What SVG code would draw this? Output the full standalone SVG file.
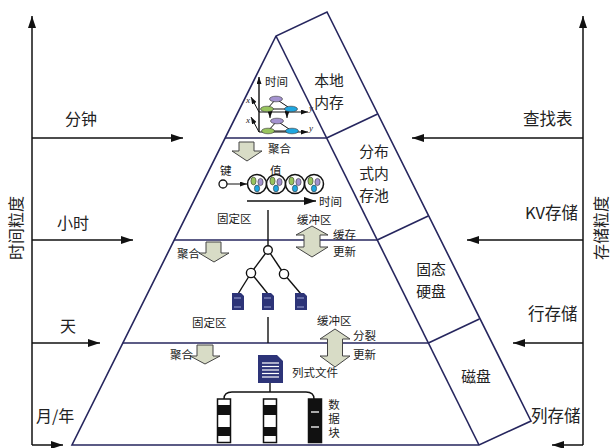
<svg xmlns="http://www.w3.org/2000/svg" width="611" height="448" viewBox="0 0 611 448">
<style>
  .ax{stroke:#111;stroke-width:1.5;fill:none}
  .pv{stroke:#26265e;stroke-width:1.6;fill:none}
  .tl{stroke:#111;stroke-width:1.4;fill:none}
  .thin{stroke:#111;stroke-width:1;fill:none}
  text{font-family:"Noto Sans CJK SC","Noto Sans",sans-serif;fill:#222;dominant-baseline:central}
  .big{font-size:16px}
  .tier{font-size:14.8px}
  .rt{font-size:16.5px}
  .sm{font-size:11.5px}
  .vert{writing-mode:vertical-rl;letter-spacing:2.5px}
  .it{font-family:"Liberation Serif",serif;font-style:italic;font-size:9px}
  .blk{fill:#d8dcc6;stroke:#444;stroke-width:1}
  .pu{fill:#a493d0;stroke:#333;stroke-width:0.6}
  .gr{fill:#98c45e;stroke:#333;stroke-width:0.6}
  .bl{fill:#1fa6e0;stroke:#333;stroke-width:0.6}
  .file{fill:#2d3478}
</style>
<defs>
  <marker id="ah" viewBox="0 0 12 8" refX="12" refY="4" markerWidth="12" markerHeight="8" markerUnits="userSpaceOnUse" orient="auto">
    <path d="M0,0 L12,4 L0,8 Z" fill="#111"/>
  </marker>
  <marker id="ahs" viewBox="0 0 7 5" refX="7" refY="2.5" markerWidth="7" markerHeight="5" markerUnits="userSpaceOnUse" orient="auto">
    <path d="M0,0 L7,2.5 L0,5 Z" fill="#111"/>
  </marker>
</defs>

<!-- granularity axes -->
<g id="axes">
  <line class="ax" x1="32" y1="445" x2="32" y2="16" marker-end="url(#ah)"/>
  <line class="ax" x1="583" y1="445" x2="583" y2="16" marker-end="url(#ah)"/>
  <text class="big" transform="translate(15,228) rotate(-90)" text-anchor="middle">时间粒度</text>
  <text class="big" transform="translate(600,228) rotate(-90)" text-anchor="middle">存储粒度</text>
</g>

<!-- scale arrows pointing at the pyramid -->
<g id="connectors">
  <line class="ax" x1="32" y1="138" x2="183" y2="138" marker-end="url(#ah)"/>
  <line class="ax" x1="32" y1="240" x2="133" y2="240" marker-end="url(#ah)"/>
  <line class="ax" x1="32" y1="343" x2="100" y2="343" marker-end="url(#ah)"/>
  <line class="ax" x1="32" y1="445" x2="63" y2="445" marker-end="url(#ah)"/>
  <line class="ax" x1="583" y1="138" x2="412" y2="138" marker-end="url(#ah)"/>
  <line class="ax" x1="583" y1="240" x2="467" y2="240" marker-end="url(#ah)"/>
  <line class="ax" x1="583" y1="343" x2="513" y2="343" marker-end="url(#ah)"/>
  <line class="ax" x1="583" y1="445" x2="552" y2="445" marker-end="url(#ah)"/>
</g>

<g id="time-labels">
  <text class="big" x="65" y="118">分钟</text>
  <text class="big" x="57" y="222">小时</text>
  <text class="big" x="60" y="325">天</text>
  <text class="big" x="36" y="415">月/年</text>
</g>
<g id="storage-labels">
  <text class="rt" x="523" y="118">查找表</text>
  <text class="rt" x="525" y="212">KV存储</text>
  <text class="rt" x="528" y="313">行存储</text>
  <text class="rt" x="531" y="415">列存储</text>
</g>

<!-- pyramid outline with its slanted side face -->
<g id="pyramid">
  <path class="pv" d="M276,36 L72,445 L479,445 L531,421 L327,12 Z"/>
  <line class="pv" x1="276" y1="36" x2="479" y2="445"/>
  <line class="pv" x1="225" y1="138" x2="326.6" y2="138"/>
  <line class="pv" x1="174" y1="240" x2="377.2" y2="240"/>
  <line class="pv" x1="122.8" y1="343" x2="428.4" y2="343"/>
  <line class="pv" x1="326.6" y1="138" x2="377.6" y2="114"/>
  <line class="pv" x1="377.2" y1="240" x2="428.2" y2="216"/>
  <line class="pv" x1="428.4" y1="343" x2="479.4" y2="319"/>
</g>

<g id="tier-local-memory">
  <text class="tier" x="329" y="79" text-anchor="middle">本地</text>
  <text class="tier" x="329" y="101" text-anchor="middle">内存</text>
</g>
<g id="tier-distributed-memory">
  <text class="tier" x="374" y="150" text-anchor="middle">分布</text>
  <text class="tier" x="374" y="172" text-anchor="middle">式内</text>
  <text class="tier" x="374" y="194" text-anchor="middle">存池</text>
</g>
<g id="tier-ssd">
  <text class="tier" x="431" y="268" text-anchor="middle">固态</text>
  <text class="tier" x="431" y="290" text-anchor="middle">硬盘</text>
</g>
<g id="tier-disk">
  <text class="tier" x="476" y="375" text-anchor="middle">磁盘</text>
</g>

<!-- time-layered graph in local memory -->
<g id="graph-layers">
  <line class="tl" x1="259" y1="132" x2="259" y2="77" marker-end="url(#ahs)"/>
  <text class="sm" x="265" y="81">时间</text>
  <line class="thin" x1="259" y1="112" x2="308" y2="112" marker-end="url(#ahs)"/>
  <line class="thin" x1="259" y1="112" x2="251" y2="97" marker-end="url(#ahs)"/>
  <line class="thin" x1="259" y1="132" x2="308" y2="132" marker-end="url(#ahs)"/>
  <line class="thin" x1="259" y1="132" x2="251" y2="117" marker-end="url(#ahs)"/>
  <text class="it" x="309" y="108">y</text>
  <text class="it" x="309" y="128">y</text>
  <text class="it" x="250" y="100" text-anchor="end">x</text>
  <text class="it" x="250" y="120" text-anchor="end">x</text>
  <path class="thin" d="M276,99 L267,109 L291,109 Z"/>
  <path class="thin" d="M277,121 L268,131 L292,131 Z"/>
  <line class="thin" x1="270" y1="110" x2="270" y2="118" marker-end="url(#ahs)"/>
  <line class="thin" x1="287" y1="110" x2="287" y2="118" marker-end="url(#ahs)"/>
  <ellipse class="pu" cx="276" cy="99" rx="6.5" ry="2.8"/>
  <ellipse class="gr" cx="267" cy="109" rx="6.5" ry="2.8"/>
  <ellipse class="bl" cx="291" cy="109" rx="6.5" ry="2.8"/>
  <ellipse class="pu" cx="277" cy="121" rx="6.5" ry="2.8"/>
  <ellipse class="gr" cx="268" cy="131" rx="6.5" ry="2.8"/>
  <ellipse class="bl" cx="292" cy="131" rx="6.5" ry="2.8"/>
</g>

<g id="aggregate-1">
  <path class="blk" d="M239,142 H254 V151 H262 L247,161 L232,151 H239 Z"/>
  <text class="sm" x="268" y="148">聚合</text>
</g>

<!-- key/value chain in the distributed memory pool -->
<g id="kv-chain">
  <text class="sm" x="220" y="170">键</text>
  <text class="sm" x="270" y="170">值</text>
  <circle cx="223" cy="184" r="4" fill="#fff" stroke="#111" stroke-width="1.3"/>
  <line class="thin" x1="227" y1="184" x2="247" y2="184" marker-end="url(#ahs)"/>
  <g id="kv-values">
    <circle cx="257" cy="184" r="9.5" fill="#fff" stroke="#111" stroke-width="1.5"/>
    <ellipse class="gr" cx="253.5" cy="181" rx="2.6" ry="3.9"/>
    <ellipse class="pu" cx="260.5" cy="182" rx="2.6" ry="3.6"/>
    <ellipse class="bl" cx="257" cy="188.5" rx="2.6" ry="3.4"/>
    <circle cx="276" cy="184" r="9.5" fill="#fff" stroke="#111" stroke-width="1.5"/>
    <ellipse class="gr" cx="272.5" cy="181" rx="2.6" ry="3.9"/>
    <ellipse class="pu" cx="279.5" cy="182" rx="2.6" ry="3.6"/>
    <ellipse class="bl" cx="276" cy="188.5" rx="2.6" ry="3.4"/>
    <circle cx="295" cy="184" r="9.5" fill="#fff" stroke="#111" stroke-width="1.5"/>
    <ellipse class="gr" cx="291.5" cy="181" rx="2.6" ry="3.9"/>
    <ellipse class="pu" cx="298.5" cy="182" rx="2.6" ry="3.6"/>
    <ellipse class="bl" cx="295" cy="188.5" rx="2.6" ry="3.4"/>
    <circle cx="314" cy="184" r="9.5" fill="#fff" stroke="#111" stroke-width="1.5"/>
    <ellipse class="gr" cx="310.5" cy="181" rx="2.6" ry="3.9"/>
    <ellipse class="pu" cx="317.5" cy="182" rx="2.6" ry="3.6"/>
    <ellipse class="bl" cx="314" cy="188.5" rx="2.6" ry="3.4"/>
  </g>
  <line class="tl" x1="247" y1="201" x2="316" y2="201" marker-end="url(#ah)"/>
  <text class="sm" x="319" y="201">时间</text>
  <text class="sm" x="217" y="218">固定区</text>
  <text class="sm" x="297" y="219">缓冲区</text>
  <line class="tl" x1="268" y1="210" x2="268" y2="246"/>
</g>

<g id="cache-update">
  <path class="blk" d="M312,226 L328,235 H320 V247 H328 L312,257 L296,247 H304 V235 H296 Z"/>
  <text class="sm" x="333" y="234">缓存</text>
  <text class="sm" x="333" y="251">更新</text>
</g>

<g id="aggregate-2">
  <path class="blk" d="M206,242 H221 V253 H229 L214,262 L199,253 H206 Z"/>
  <text class="sm" x="177" y="253">聚合</text>
</g>

<!-- index tree over row files on the SSD -->
<g id="row-tree">
  <line class="tl" x1="268" y1="250" x2="251" y2="273"/>
  <line class="tl" x1="268" y1="250" x2="284" y2="274"/>
  <line class="tl" x1="251" y1="273" x2="238" y2="294"/>
  <line class="tl" x1="251" y1="273" x2="268" y2="294"/>
  <line class="tl" x1="284" y1="274" x2="301" y2="294"/>
  <circle cx="268" cy="250" r="4.3" fill="#fff" stroke="#111" stroke-width="1.4"/>
  <circle cx="251" cy="273" r="4.6" fill="#fff" stroke="#111" stroke-width="1.4"/>
  <circle cx="284" cy="274" r="4.6" fill="#fff" stroke="#111" stroke-width="1.4"/>
  <g id="row-files">
    <path class="file" d="M232,293 H241 L244,296 V310 H232 Z"/>
    <line x1="234" y1="298" x2="241" y2="298" stroke="#9fa6d6" stroke-width="1"/>
    <line x1="234" y1="307" x2="241" y2="307" stroke="#9fa6d6" stroke-width="1"/>
    <path class="file" d="M262,293 H271 L274,296 V310 H262 Z"/>
    <line x1="264" y1="298" x2="271" y2="298" stroke="#9fa6d6" stroke-width="1"/>
    <line x1="264" y1="307" x2="271" y2="307" stroke="#9fa6d6" stroke-width="1"/>
    <path class="file" d="M295,293 H304 L307,296 V310 H295 Z"/>
    <line x1="297" y1="298" x2="304" y2="298" stroke="#9fa6d6" stroke-width="1"/>
    <line x1="297" y1="307" x2="304" y2="307" stroke="#9fa6d6" stroke-width="1"/>
  </g>
  <text class="sm" x="192" y="322">固定区</text>
  <text class="sm" x="317" y="320">缓冲区</text>
  <line class="tl" x1="268" y1="317" x2="268" y2="343"/>
</g>

<g id="split-update">
  <path class="blk" d="M335,329 L350,339 H342.5 V356 H350 L335,367 L320,356 H327.5 V339 H320 Z"/>
  <text class="sm" x="353" y="335">分裂</text>
  <text class="sm" x="353" y="354">更新</text>
</g>

<g id="aggregate-3">
  <path class="blk" d="M197,345 H213 V356 H220 L205,364 L190,356 H197 Z"/>
  <text class="sm" x="170" y="354">聚合</text>
</g>

<!-- columnar file and its data blocks on disk -->
<g id="column-file">
  <path class="file" d="M258,355 H277 L283,361 V383 H258 Z"/>
  <g stroke="#fff" stroke-width="1.2">
    <line x1="262" y1="363" x2="279" y2="363"/>
    <line x1="262" y1="366.5" x2="279" y2="366.5"/>
    <line x1="262" y1="370" x2="279" y2="370"/>
    <line x1="262" y1="373.5" x2="279" y2="373.5"/>
    <line x1="262" y1="377" x2="279" y2="377"/>
  </g>
  <text class="sm" x="292" y="372">列式文件</text>
  <path class="tl" d="M270,383 V392"/>
  <path class="tl" d="M224,399 Q224,392 232,392 H306 Q314,392 314,399"/>
</g>

<g id="data-blocks">
  <rect x="217.5" y="399" width="13" height="43.5" fill="#fff" stroke="#111" stroke-width="1.5"/>
  <rect x="217.5" y="405" width="13" height="10" fill="#111"/>
  <rect x="217.5" y="427" width="13" height="9" fill="#111"/>
  <rect x="263.5" y="399" width="13" height="43.5" fill="#fff" stroke="#111" stroke-width="1.5"/>
  <rect x="263.5" y="405" width="13" height="10" fill="#111"/>
  <rect x="263.5" y="427" width="13" height="9" fill="#111"/>
  <rect x="308.5" y="399" width="13" height="43.5" fill="#111" stroke="#111" stroke-width="1.5"/>
  <line x1="311" y1="412" x2="319" y2="412" stroke="#fff" stroke-width="1.3"/>
  <line x1="311" y1="427" x2="319" y2="427" stroke="#fff" stroke-width="1.3"/>
  <text class="sm vert" x="334" y="399">数据块</text>
</g>
</svg>
